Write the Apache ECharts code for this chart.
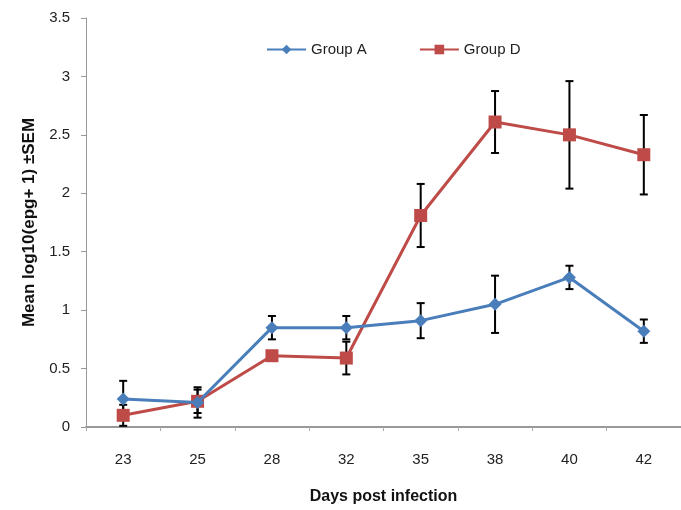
<!DOCTYPE html>
<html>
<head>
<meta charset="utf-8">
<script src="https://cdn.jsdelivr.net/npm/echarts@6/dist/echarts.min.js"></script>
<style>html,body{margin:0;padding:0;background:#fff;}#c{width:681px;height:510px;}</style>
</head>
<body>
<div id="c"></div>
<script>
var days = ['23', '25', '28', '32', '35', '38', '40', '42'];
var groupA = [0.24, 0.21, 0.85, 0.85, 0.91, 1.05, 1.28, 0.82];
var groupAErr = [0.155, 0.13, 0.10, 0.10, 0.15, 0.245, 0.10, 0.10];
var groupD = [0.10, 0.22, 0.61, 0.59, 1.81, 2.61, 2.50, 2.33];
var groupDErr = [0.09, 0.10, 0.02, 0.14, 0.27, 0.265, 0.46, 0.34];
var yTicks = ['0', '0.5', '1', '1.5', '2', '2.5', '3', '3.5'];

function errData(vals, errs) {
  return vals.map(function (v, i) { return [i, v - errs[i], v + errs[i]]; });
}
function renderErr(params, api) {
  var x = api.value(0);
  var lo = api.coord([x, Math.max(0, api.value(1))]);
  var hi = api.coord([x, api.value(2)]);
  var w = 4;
  var st = { stroke: '#000', lineWidth: 2 };
  return {
    type: 'group',
    children: [
      { type: 'line', shape: { x1: lo[0], y1: lo[1], x2: hi[0], y2: hi[1] }, style: st },
      { type: 'line', shape: { x1: hi[0] - w, y1: hi[1], x2: hi[0] + w, y2: hi[1] }, style: st },
      { type: 'line', shape: { x1: lo[0] - w, y1: lo[1], x2: lo[0] + w, y2: lo[1] }, style: st }
    ]
  };
}

var chart = echarts.init(document.getElementById('c'));
chart.setOption({
  animation: false,
  backgroundColor: '#fff',
  textStyle: { fontFamily: 'Liberation Sans' },
  grid: { left: 86, top: 18, width: 600, height: 410 },
  legend: {
    left: 261, top: 37,
    itemWidth: 39, itemHeight: 12, itemGap: 52,
    textStyle: { fontSize: 15, color: '#222', fontFamily: 'Liberation Sans' },
    data: ['Group A', 'Group D']
  },
  xAxis: {
    type: 'category',
    data: days,
    boundaryGap: true,
    name: 'Days post infection',
    nameLocation: 'middle',
    nameGap: 62,
    nameTextStyle: { fontSize: 16, fontWeight: 'bold', color: '#111' },
    axisLine: { lineStyle: { color: '#999', width: 2 } },
    axisTick: { show: true, length: 4, lineStyle: { color: '#aaa' } },
    axisLabel: { fontSize: 15, color: '#222', margin: 25 },
    splitLine: { show: false }
  },
  yAxis: {
    type: 'value',
    min: 0, max: 3.5, interval: 0.5,
    name: 'Mean log10(epg+ 1) \u00b1SEM',
    nameLocation: 'middle',
    nameGap: 46,
    nameTextStyle: { fontSize: 17, fontWeight: 'bold', color: '#111' },
    axisLine: { show: true, lineStyle: { color: '#999', width: 1 } },
    axisTick: { show: true, length: 5, lineStyle: { color: '#999' } },
    axisLabel: {
      fontSize: 15, color: '#222', margin: 16,
      formatter: function (v) { return yTicks[Math.round(v / 0.5)]; }
    },
    splitLine: { show: false }
  },
  series: [
    {
      type: 'custom', name: 'errA', renderItem: renderErr,
      data: errData(groupA, groupAErr), z: 1, silent: true,
      encode: { x: 0, y: [1, 2] }
    },
    {
      type: 'custom', name: 'errD', renderItem: renderErr,
      data: errData(groupD, groupDErr), z: 1, silent: true,
      encode: { x: 0, y: [1, 2] }
    },
    {
      name: 'Group A', type: 'line', data: groupA,
      symbol: 'diamond', symbolSize: 13,
      itemStyle: { color: '#4A7EBB' },
      lineStyle: { color: '#4A7EBB', width: 3 },
      z: 3
    },
    {
      name: 'Group D', type: 'line', data: groupD,
      symbol: 'rect', symbolSize: 13,
      itemStyle: { color: '#BE4B48' },
      lineStyle: { color: '#BE4B48', width: 3 },
      z: 2
    }
  ]
});
</script>
</body>
</html>
